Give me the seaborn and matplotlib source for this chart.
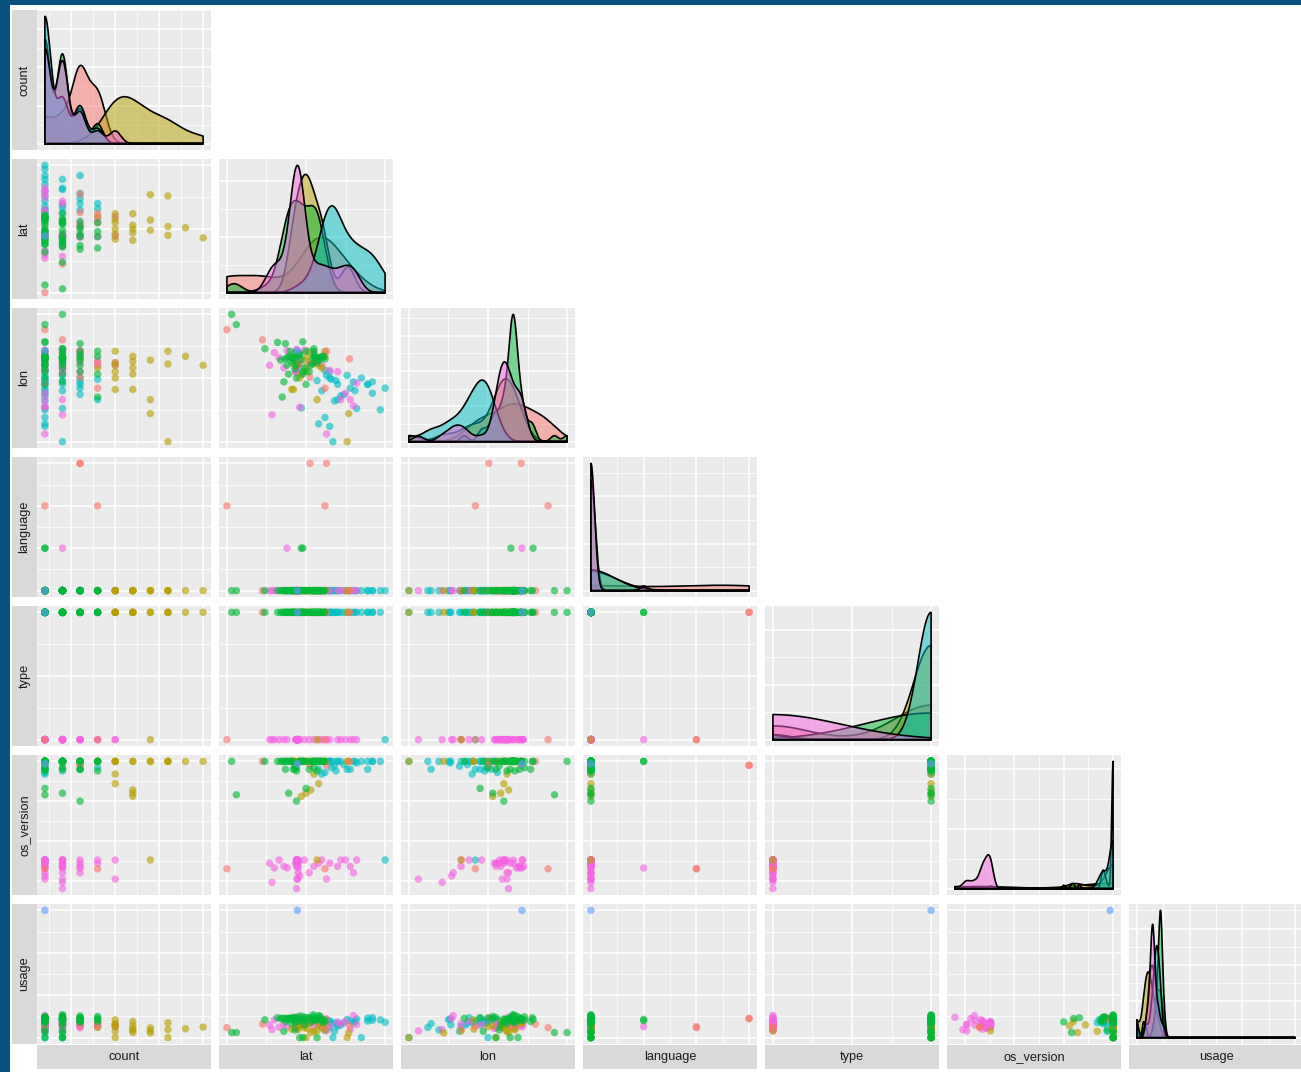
import numpy as np
import pandas as pd
import matplotlib
matplotlib.use("Agg")
import matplotlib.pyplot as plt
from matplotlib.patches import Rectangle
from matplotlib.ticker import MaxNLocator
import seaborn as sns

sns.set_theme(style="white")
plt.rcParams["font.family"] = ["Liberation Sans", "DejaVu Sans"]

# ---------------------------------------------------------------- data
variables = ["count", "lat", "lon", "language", "type", "os_version", "usage"]
columns = ["count", "lat", "lon", "language", "type", "os_version", "usage"]

cluster_order = ["c1", "c2", "c3", "c4", "c5", "c6"]
cluster_colors = ["#F8766D", "#B79F00", "#00BA38", "#00BFC4", "#619CFF", "#F564E3"]

# each record: count, lat, lon, language, type, os_version, usage
c1_rows = [
    (1, 10.0, 95.2, 2, 0, 3.25, 235),
    (4, 22.4, 76.8, 2, 0, 3.25, 260),
    (3, 22.6, 88.4, 3, 1, 9.75, 445),
    (3, 20.5, 80.2, 3, 1, 9.75, 455),
    (4, 21.0, 84.8, 0, 1, 10.0, 360),
    (2, 14.5, 92.0, 0, 1, 10.0, 320),
    (3, 25.5, 86.0, 0, 1, 10.0, 280),
]
c2_rows = [
    (4, 22.0, 83.2, 0, 1, 10.0, 240), (5, 22.4, 88.4, 0, 1, 10.0, 330),
    (5, 21.0, 84.8, 0, 1, 9.2, 150), (5, 20.0, 82.0, 0, 1, 10.0, 0),
    (5, 19.2, 80.0, 0, 1, 10.0, 260), (5, 18.4, 76.4, 0, 1, 10.0, 420),
    (6, 22.4, 86.8, 0, 1, 10.0, 180), (6, 20.6, 85.2, 0, 1, 8.2, 120),
    (6, 19.4, 81.2, 0, 1, 7.8, 280), (6, 18.2, 76.4, 0, 1, 10.0, 200),
    (7, 25.4, 68.8, 0, 1, 10.0, 110), (7, 21.4, 73.2, 0, 0, 3.8, 160),
    (7, 19.8, 85.6, 0, 1, 10.0, 230), (8, 20.4, 88.4, 0, 1, 10.0, 350),
    (8, 19.0, 84.4, 0, 1, 10.0, 190), (8, 25.2, 60.0, 0, 1, 10.0, 0),
    (9, 20.2, 86.8, 0, 1, 10.0, 210), (10, 18.6, 84.0, 0, 1, 10.0, 250),
    (5, 21.6, 84.0, 0, 1, 8.6, 300), (6, 20.0, 83.2, 0, 1, 8.0, 380),
]
c3_rows = [
    (1, 11.2, 96.8, 0, 1, 7.9, 120), (2, 10.6, 100.0, 0, 1, 10.0, 120),
    (2, 14.8, 89.2, 0, 1, 10.0, 420), (1, 16.4, 91.2, 0, 1, 10.0, 470),
    (3, 17.4, 90.8, 0, 1, 9.5, 380), (1, 19.4, 85.8, 1, 1, 10.0, 400),
    (1, 19.6, 91.4, 1, 1, 10.0, 430), (1, 18.2, 86.4, 0, 1, 10.0, 455),
    (1, 21.8, 86.4, 0, 1, 10.0, 500), (1, 21.0, 87.2, 0, 1, 10.0, 410),
    (1, 18.4, 85.6, 0, 1, 9.5, 480), (1, 18.0, 88.4, 0, 1, 10.0, 445),
    (1, 20.6, 84.0, 0, 1, 10.0, 360), (1, 19.6, 82.0, 0, 1, 10.0, 0),
    (1, 18.8, 80.0, 0, 1, 9.6, 465), (1, 22.2, 86.8, 0, 1, 10.0, 350),
    (1, 17.6, 86.4, 0, 1, 10.0, 440), (1, 21.4, 84.8, 0, 1, 9.4, 415),
    (2, 21.6, 86.4, 0, 1, 10.0, 520), (2, 17.9, 86.8, 0, 1, 10.0, 455),
    (2, 22.4, 86.0, 0, 1, 10.0, 395), (2, 18.6, 88.0, 0, 1, 9.5, 470),
    (2, 18.2, 84.8, 0, 1, 10.0, 330), (2, 20.9, 86.4, 0, 1, 10.0, 540),
    (2, 19.8, 83.2, 0, 1, 10.0, 300), (2, 17.8, 81.2, 0, 1, 8.0, 450),
    (2, 17.2, 78.8, 0, 1, 10.0, 150), (2, 21.0, 89.2, 0, 1, 9.6, 490),
    (2, 21.2, 86.4, 0, 1, 10.0, 425), (2, 19.2, 87.6, 0, 1, 10.0, 0),
    (3, 21.2, 86.4, 0, 1, 10.0, 460), (3, 20.0, 88.4, 0, 1, 10.0, 405),
    (3, 16.8, 85.6, 0, 1, 10.0, 450), (3, 18.8, 84.0, 0, 1, 7.5, 370),
    (3, 20.4, 82.0, 0, 1, 9.5, 475), (4, 21.0, 88.4, 0, 1, 10.0, 430),
    (4, 19.6, 81.2, 0, 1, 10.0, 500), (4, 18.8, 86.8, 0, 1, 9.4, 385),
    (4, 17.0, 74.0, 0, 1, 10.0, 455), (1, 21.9, 86.0, 0, 1, 10.0, 445),
    (1, 22.0, 86.8, 0, 1, 10.0, 420), (2, 17.4, 86.0, 0, 1, 10.0, 460),
    (1, 18.6, 82.8, 0, 1, 9.7, 180), (2, 20.8, 84.4, 0, 1, 10.0, 435),
    (3, 19.2, 87.2, 0, 1, 10.0, 510), (1, 21.6, 86.4, 0, 1, 10.0, 450),
    (2, 18.4, 86.4, 0, 1, 10.0, 410), (1, 20.0, 78.0, 0, 1, 8.3, 470),
    (2, 21.4, 85.6, 0, 1, 10.0, 0), (1, 17.6, 84.0, 0, 1, 10.0, 440),
]
c4_rows = [
    (1, 30.0, 76.8, 0, 0, 3.8, 360), (1, 29.4, 70.0, 0, 1, 10.0, 420),
    (1, 28.4, 75.2, 0, 1, 10.0, 470), (1, 27.8, 78.0, 0, 1, 9.5, 390),
    (1, 27.0, 80.0, 0, 1, 10.0, 0), (1, 26.0, 78.8, 0, 1, 10.0, 350),
    (1, 25.2, 80.8, 0, 1, 9.5, 430), (1, 24.4, 74.4, 0, 1, 10.0, 300),
    (1, 23.6, 72.8, 0, 1, 9.7, 150), (1, 23.0, 64.8, 0, 1, 10.0, 240),
    (1, 22.4, 67.6, 0, 1, 10.0, 180), (1, 21.6, 65.6, 0, 1, 9.5, 330),
    (2, 27.8, 78.0, 0, 1, 10.0, 460), (2, 26.2, 76.0, 0, 1, 10.0, 380),
    (2, 23.8, 79.2, 0, 1, 9.4, 360), (2, 23.4, 60.0, 0, 1, 10.0, 0),
    (3, 28.4, 78.8, 0, 1, 10.0, 410), (3, 25.6, 76.8, 0, 1, 9.5, 395),
    (3, 24.8, 74.8, 0, 1, 9.8, 350), (3, 24.0, 78.0, 0, 1, 10.0, 300),
    (4, 24.0, 73.2, 0, 1, 10.0, 270), (4, 23.2, 79.6, 0, 1, 9.6, 330),
    (1, 23.0, 82.0, 0, 1, 10.0, 390), (1, 22.4, 82.4, 0, 1, 9.3, 425),
    (1, 21.4, 79.2, 0, 1, 10.0, 360), (2, 26.4, 70.4, 0, 1, 9.9, 440),
    (1, 19.4, 70.6, 0, 1, 10.0, 300), (3, 23.0, 80.0, 0, 1, 10.0, 385),
    (1, 22.0, 76.0, 0, 1, 9.2, 355), (2, 22.6, 80.8, 0, 1, 10.0, 415),
]
c5_rows = [
    (1, 18.9, 88.6, 0, 1, 9.85, 3000),
]
c6_rows = [
    (1, 15.4, 84.0, 0, 0, 3.6, 300), (1, 16.0, 88.0, 0, 0, 3.3, 420),
    (1, 16.6, 86.4, 0, 0, 3.8, 250), (1, 25.0, 75.2, 0, 0, 3.8, 380),
    (1, 25.6, 73.2, 0, 0, 3.4, 200), (1, 26.0, 71.2, 0, 0, 3.0, 520),
    (1, 26.4, 78.4, 0, 0, 3.8, 310), (1, 18.8, 82.8, 0, 0, 3.6, 270),
    (1, 19.0, 87.8, 0, 0, 3.4, 340), (1, 22.6, 62.4, 0, 0, 2.6, 160),
    (1, 18.8, 84.8, 0, 0, 3.8, 290), (1, 19.2, 70.8, 0, 0, 2.8, 450),
    (2, 17.6, 88.6, 1, 0, 3.3, 260), (2, 24.4, 73.2, 0, 0, 3.8, 330),
    (2, 18.8, 81.6, 0, 0, 3.6, 220), (2, 18.8, 89.0, 0, 0, 3.4, 400),
    (2, 19.0, 85.2, 0, 0, 3.0, 300), (2, 18.8, 83.0, 0, 0, 3.8, 280),
    (2, 19.0, 84.0, 0, 0, 3.8, 350), (2, 15.7, 68.4, 0, 0, 2.4, 190),
    (2, 18.9, 83.6, 0, 0, 2.6, 310), (2, 18.8, 85.2, 0, 0, 2.0, 480),
    (2, 18.9, 86.4, 0, 0, 3.6, 260), (2, 17.2, 83.2, 0, 0, 3.4, 320),
    (3, 18.9, 88.6, 0, 0, 3.8, 360), (3, 18.7, 82.0, 0, 0, 3.6, 230),
    (3, 19.0, 87.2, 0, 0, 3.3, 290), (3, 20.4, 84.8, 0, 0, 3.0, 410),
    (3, 21.0, 88.0, 0, 0, 3.4, 270), (4, 18.8, 84.0, 0, 0, 3.8, 300),
    (4, 21.6, 85.6, 0, 0, 3.6, 340), (5, 22.0, 84.0, 0, 0, 3.8, 250),
    (5, 18.9, 84.8, 0, 0, 2.6, 310), (1, 19.8, 88.8, 0, 0, 3.8, 300),
    (1, 23.0, 82.4, 0, 0, 3.6, 280), (2, 24.0, 82.0, 0, 0, 3.4, 360),
    (1, 19.1, 84.4, 0, 0, 3.7, 320),
]

rows_by_cluster = {
    "c1": c1_rows, "c2": c2_rows, "c3": c3_rows,
    "c4": c4_rows, "c5": c5_rows, "c6": c6_rows,
}
# plotting order of the points (later rows are drawn on top)
point_order = ["c4", "c6", "c2", "c1", "c3", "c5"]

frames = []
for key in point_order:
    part = pd.DataFrame(rows_by_cluster[key], columns=columns)
    part["cluster"] = key
    frames.append(part)
df = pd.concat(frames, ignore_index=True)
palette = dict(zip(cluster_order, cluster_colors))

# ---------------------------------------------------------------- helpers
W, H = 1301, 1072
PANEL_BG = "#EBEBEB"
STRIP_BG = "#D9D9D9"
TEXT_COL = "#1A1A1A"


def bw_nrd0(x):
    x = np.asarray(x, dtype=float)
    hi = np.std(x, ddof=1)
    q25, q75 = np.percentile(x, [25, 75])
    lo = min(hi, (q75 - q25) / 1.34)
    if lo <= 0:
        if hi > 0:
            lo = hi
        elif abs(x[0]) > 0:
            lo = abs(x[0])
        else:
            lo = 1.0
    return 0.9 * lo * len(x) ** -0.2


def density(x, grid):
    x = np.asarray(x, dtype=float)
    bw = bw_nrd0(x)
    z = (grid[:, None] - x[None, :]) / bw
    return np.exp(-0.5 * z ** 2).sum(axis=1) / (len(x) * bw * np.sqrt(2 * np.pi))


def expanded(lo, hi):
    pad = 0.05 * (hi - lo)
    return lo - pad, hi + pad


def breaks(lo, hi):
    loc = MaxNLocator(nbins=4, steps=[1, 2, 2.5, 5, 10])
    major = [t for t in loc.tick_values(lo, hi) if lo <= t <= hi]
    if len(major) >= 2:
        step = major[1] - major[0]
        cand = [major[0] - step / 2] + [m + step / 2 for m in major]
        minor = [t for t in cand if lo <= t <= hi]
    else:
        minor = []
    return major, minor


def style_panel(ax, xlim, ylim):
    ax.set_facecolor(PANEL_BG)
    ax.set_xlim(*xlim)
    ax.set_ylim(*ylim)
    xmaj, xmin = breaks(*xlim)
    ymaj, ymin = breaks(*ylim)
    ax.set_xticks(xmaj)
    ax.set_xticks(xmin, minor=True)
    ax.set_yticks(ymaj)
    ax.set_yticks(ymin, minor=True)
    ax.set_axisbelow(True)
    ax.grid(which="major", color="white", linewidth=1.1)
    ax.grid(which="minor", color="white", linewidth=0.55)
    ax.tick_params(which="both", length=0, labelbottom=False, labelleft=False)
    ax.set_xlabel("")
    ax.set_ylabel("")
    for s in ax.spines.values():
        s.set_visible(False)


limits = {v: expanded(df[v].min(), df[v].max()) for v in variables}

# ---------------------------------------------------------------- layout
fig = plt.figure(figsize=(W / 100, H / 100), dpi=100)
fig.patch.set_facecolor("white")

col_x = [37 + 182 * j for j in range(7)]
row_y = [10 + 149 * i for i in range(7)]
pw, ph = 174, 140


def add_box(x0, y0, w, h):
    return fig.add_axes([x0 / W, 1 - (y0 + h) / H, w / W, h / H])


for i, vy in enumerate(variables):
    for j, vx in enumerate(variables[: i + 1]):
        ax = add_box(col_x[j], row_y[i], pw, ph)
        if i == j:
            lo, hi = df[vx].min(), df[vx].max()
            grid = np.linspace(lo, hi, 512)
            top = 0.0
            curves = []
            for key in cluster_order:
                vals = df.loc[df["cluster"] == key, vx].to_numpy()
                if len(vals) < 2:
                    continue
                d = density(vals, grid)
                top = max(top, d.max())
                curves.append((key, d))
            for key, d in curves:
                ax.fill_between(grid, 0, d, color=palette[key], alpha=0.5,
                                linewidth=0, zorder=2)
                ax.plot(np.r_[grid[0], grid, grid[-1], grid[0]],
                        np.r_[0, d, 0, 0], color="black", linewidth=1.2,
                        zorder=2)
            style_panel(ax, limits[vx], (-0.05 * top, 1.05 * top))
        else:
            sns.scatterplot(data=df, x=vx, y=vy, hue="cluster",
                            hue_order=cluster_order, palette=palette,
                            s=29, alpha=0.62, linewidth=0, legend=False,
                            ax=ax, zorder=3)
            style_panel(ax, limits[vx], limits[vy])

    # row strip on the left
    sax = add_box(12, row_y[i], 25, ph)
    sax.set_facecolor(STRIP_BG)
    sax.set_xticks([])
    sax.set_yticks([])
    for s in sax.spines.values():
        s.set_visible(False)
    sax.text(0.5, 0.5, vy, rotation=90, ha="center", va="center",
             fontsize=9.2, color=TEXT_COL, transform=sax.transAxes)

# column strips along the bottom
for j, vx in enumerate(variables):
    sax = add_box(col_x[j], 1045, pw, 24)
    sax.set_facecolor(STRIP_BG)
    sax.set_xticks([])
    sax.set_yticks([])
    for s in sax.spines.values():
        s.set_visible(False)
    sax.text(0.5, 0.5, vx, ha="center", va="center", fontsize=9.2,
             color=TEXT_COL, transform=sax.transAxes)

# dark frame along the top and left edges
fig.patches.append(Rectangle((0, 1 - 4.5 / H), 1, 4.5 / H, transform=fig.transFigure,
                             facecolor="#0B5180", edgecolor="none", zorder=10))
fig.patches.append(Rectangle((0, 0), 10 / W, 1, transform=fig.transFigure,
                             facecolor="#0B5180", edgecolor="none", zorder=10))

fig.savefig("out.png", dpi=100, facecolor="white")
